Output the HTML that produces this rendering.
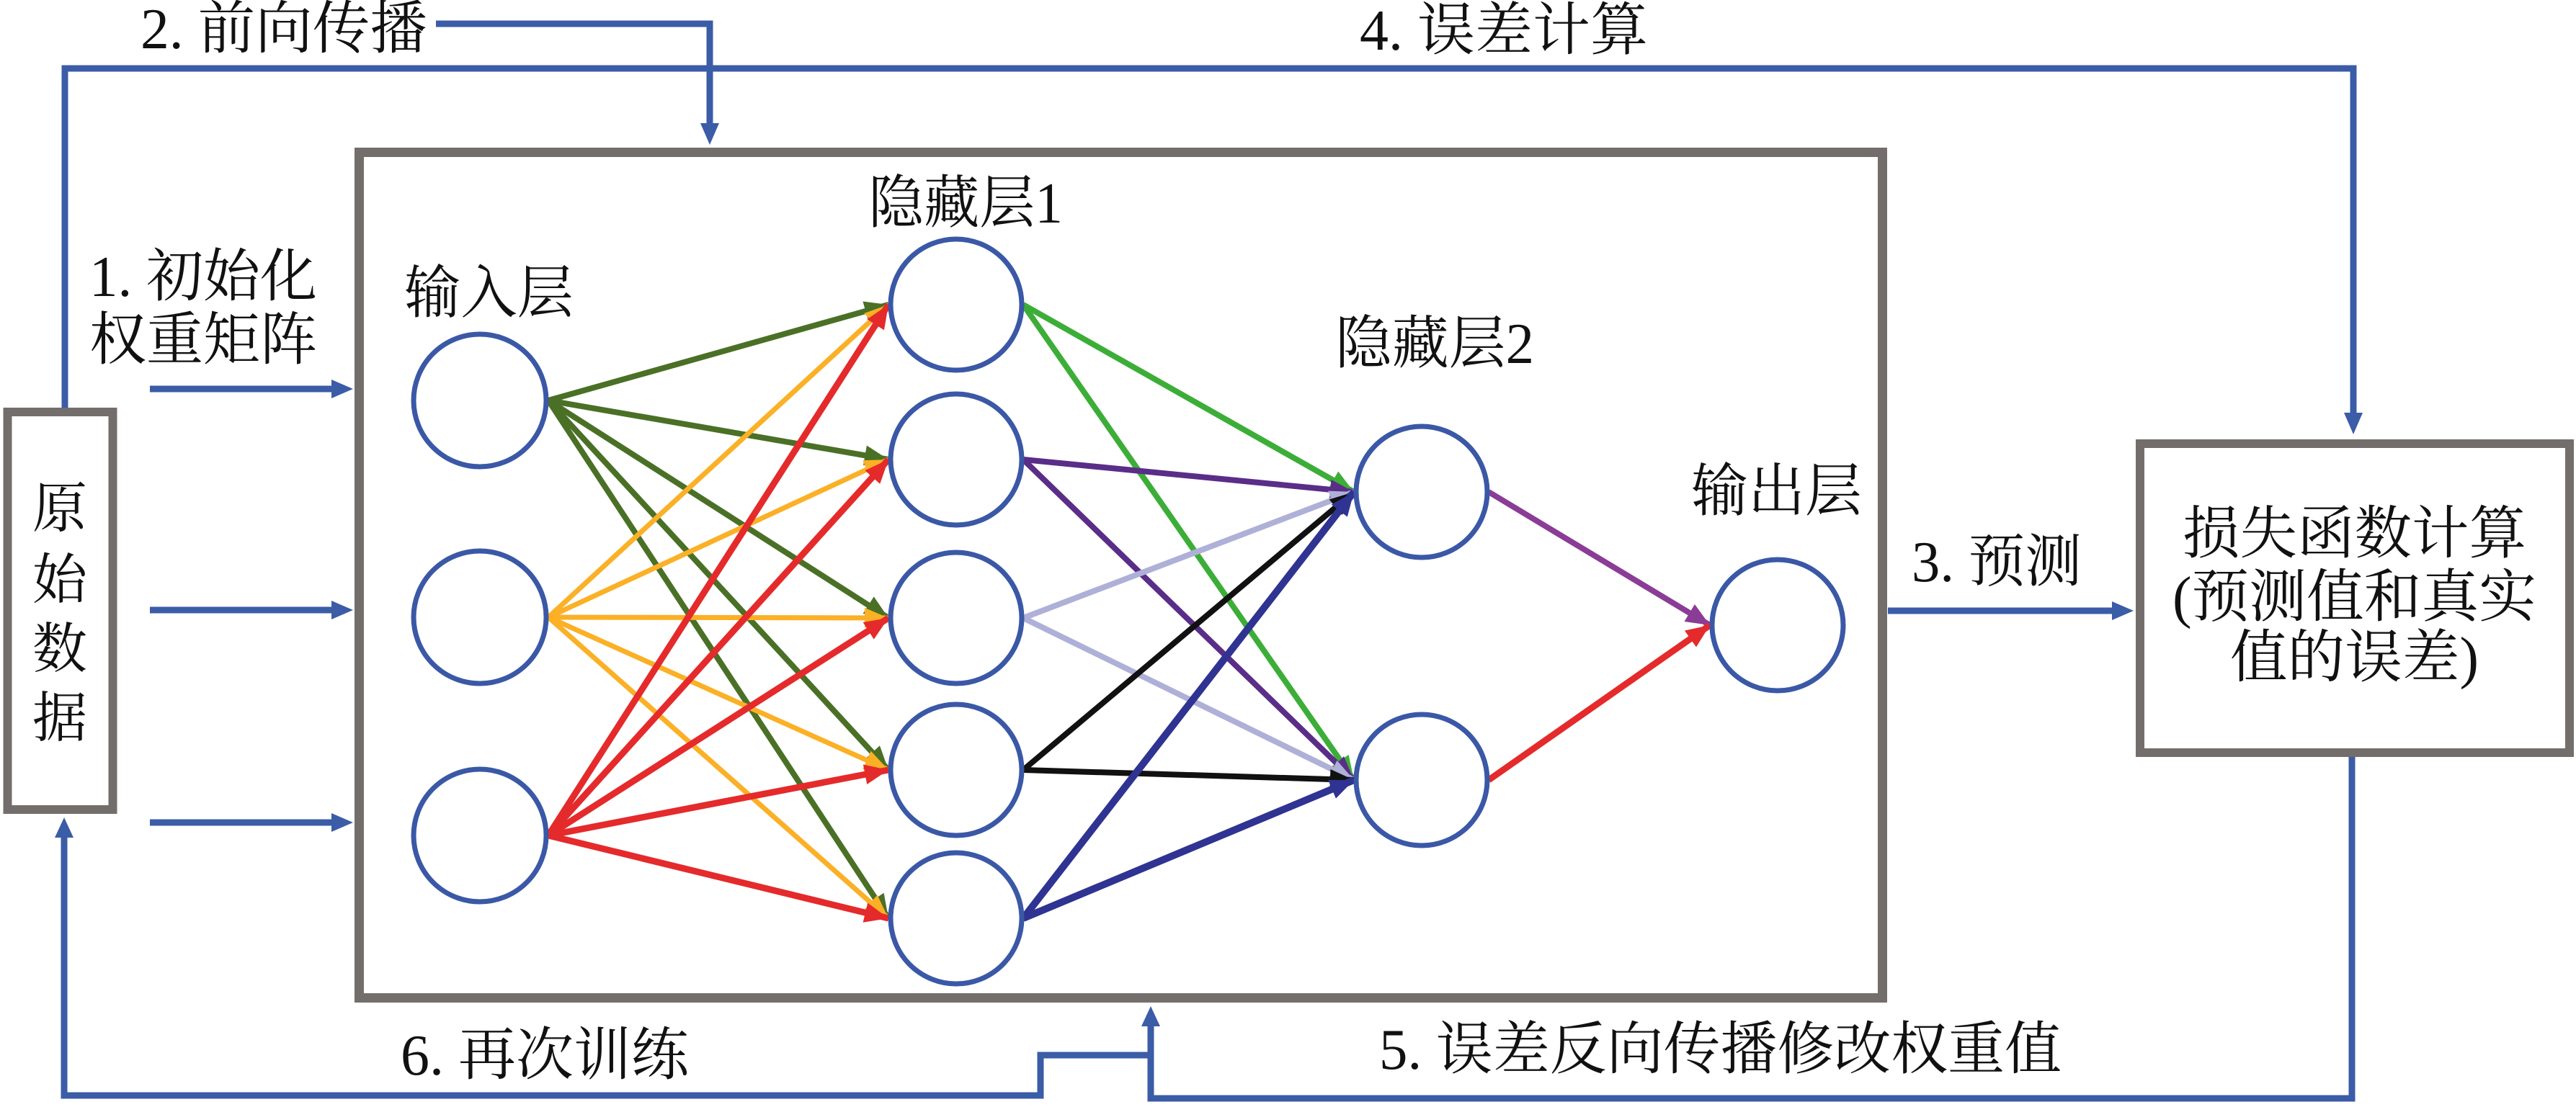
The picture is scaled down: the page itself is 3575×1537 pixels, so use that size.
<!DOCTYPE html>
<html>
<head>
<meta charset="utf-8">
<style>
  html,body{margin:0;padding:0;background:#fff;}
  svg{display:block;}
  text{font-family:"Liberation Serif","Noto Serif CJK SC","Noto Serif CJK",serif;fill:#111;}
</style>
</head>
<body>
<svg width="3575" height="1537" viewBox="0 0 3575 1537" xmlns="http://www.w3.org/2000/svg">
  <defs>
    <marker id="mDG" markerUnits="userSpaceOnUse" markerWidth="36" markerHeight="30" refX="33" refY="14" orient="auto" overflow="visible"><path d="M0,0 L33,14 L0,28 z" fill="#4a7026"/></marker>
    <marker id="mY" markerUnits="userSpaceOnUse" markerWidth="36" markerHeight="30" refX="33" refY="14" orient="auto" overflow="visible"><path d="M0,0 L33,14 L0,28 z" fill="#fbb026"/></marker>
    <marker id="mR" markerUnits="userSpaceOnUse" markerWidth="36" markerHeight="30" refX="33" refY="14" orient="auto" overflow="visible"><path d="M0,0 L33,14 L0,28 z" fill="#e52a2b"/></marker>
    <marker id="mG" markerUnits="userSpaceOnUse" markerWidth="36" markerHeight="30" refX="33" refY="14" orient="auto" overflow="visible"><path d="M0,0 L33,14 L0,28 z" fill="#3cae38"/></marker>
    <marker id="mP" markerUnits="userSpaceOnUse" markerWidth="36" markerHeight="30" refX="33" refY="14" orient="auto" overflow="visible"><path d="M0,0 L33,14 L0,28 z" fill="#5a2d88"/></marker>
    <marker id="mL" markerUnits="userSpaceOnUse" markerWidth="36" markerHeight="30" refX="33" refY="14" orient="auto" overflow="visible"><path d="M0,0 L33,14 L0,28 z" fill="#aeb0d8"/></marker>
    <marker id="mK" markerUnits="userSpaceOnUse" markerWidth="36" markerHeight="30" refX="33" refY="14" orient="auto" overflow="visible"><path d="M0,0 L33,14 L0,28 z" fill="#111111"/></marker>
    <marker id="mN" markerUnits="userSpaceOnUse" markerWidth="36" markerHeight="30" refX="33" refY="14" orient="auto" overflow="visible"><path d="M0,0 L33,14 L0,28 z" fill="#2f3391"/></marker>
    <marker id="mM" markerUnits="userSpaceOnUse" markerWidth="36" markerHeight="30" refX="33" refY="14" orient="auto" overflow="visible"><path d="M0,0 L33,14 L0,28 z" fill="#8b3c96"/></marker>
  </defs>

  <!-- Gray boxes -->
  <rect x="10.5" y="572" width="146" height="552" fill="none" stroke="#736e6b" stroke-width="12"/>
  <rect x="498.5" y="211.5" width="2114" height="1174" fill="none" stroke="#736e6b" stroke-width="13"/>
  <rect x="2970" y="616" width="596" height="429" fill="none" stroke="#736e6b" stroke-width="12"/>

  <!-- Blue connectors -->
  <g fill="none" stroke="#3b5ca6" stroke-width="9" stroke-linejoin="miter">
    <path d="M90 566 V95 H3266 V577"/>
    <path d="M605 33 H985 V175"/>
    <path d="M208 540 H462"/>
    <path d="M208 847 H462"/>
    <path d="M208 1142 H462"/>
    <path d="M2620 848 H2933"/>
    <path d="M89 1160 V1521 H1444 V1465 H1597"/>
    <path d="M3264 1051 V1525 H1597 V1422"/>
  </g>
  <g fill="#3b5ca6">
    <polygon points="972,171 998,171 985,201"/>
    <polygon points="3253,573 3279,573 3266,603"/>
    <polygon points="460,527 460,553 490,540"/>
    <polygon points="460,834 460,860 490,847"/>
    <polygon points="460,1129 460,1155 490,1142"/>
    <polygon points="2931,835 2931,861 2961,848"/>
    <polygon points="76,1163 102,1163 89,1135"/>
    <polygon points="1584,1425 1610,1425 1597,1397"/>
  </g>

  <!-- Input -> Hidden1 -->
  <g fill="none" stroke="#4a7026" stroke-width="8">
    <line x1="761" y1="556" x2="1233" y2="423" marker-end="url(#mDG)"/>
    <line x1="761" y1="556" x2="1233" y2="638" marker-end="url(#mDG)"/>
    <line x1="761" y1="556" x2="1233" y2="858" marker-end="url(#mDG)"/>
    <line x1="761" y1="556" x2="1233" y2="1069" marker-end="url(#mDG)"/>
    <line x1="761" y1="556" x2="1233" y2="1275" marker-end="url(#mDG)"/>
  </g>
  <g fill="none" stroke="#fbb026" stroke-width="7">
    <line x1="761" y1="857" x2="1233" y2="423" marker-end="url(#mY)"/>
    <line x1="761" y1="857" x2="1233" y2="638" marker-end="url(#mY)"/>
    <line x1="761" y1="857" x2="1233" y2="858" marker-end="url(#mY)"/>
    <line x1="761" y1="857" x2="1233" y2="1069" marker-end="url(#mY)"/>
    <line x1="761" y1="857" x2="1233" y2="1275" marker-end="url(#mY)"/>
  </g>
  <g fill="none" stroke="#e52a2b" stroke-width="9">
    <line x1="761" y1="1160" x2="1233" y2="423" marker-end="url(#mR)"/>
    <line x1="761" y1="1160" x2="1233" y2="638" marker-end="url(#mR)"/>
    <line x1="761" y1="1160" x2="1233" y2="858" marker-end="url(#mR)"/>
    <line x1="761" y1="1160" x2="1233" y2="1069" marker-end="url(#mR)"/>
    <line x1="761" y1="1160" x2="1233" y2="1275" marker-end="url(#mR)"/>
  </g>

  <!-- Hidden1 -> Hidden2 -->
  <g fill="none" stroke-width="8">
    <line x1="1420" y1="423" x2="1879" y2="683" stroke="#3cae38" marker-end="url(#mG)"/>
    <line x1="1420" y1="423" x2="1879" y2="1083" stroke="#3cae38" marker-end="url(#mG)"/>
    <line x1="1420" y1="638" x2="1879" y2="683" stroke="#5a2d88" marker-end="url(#mP)"/>
    <line x1="1420" y1="638" x2="1879" y2="1083" stroke="#5a2d88" marker-end="url(#mP)"/>
    <line x1="1420" y1="858" x2="1879" y2="683" stroke="#aeb0d8" marker-end="url(#mL)"/>
    <line x1="1420" y1="858" x2="1879" y2="1083" stroke="#aeb0d8" marker-end="url(#mL)"/>
    <line x1="1420" y1="1069" x2="1879" y2="683" stroke="#111111" marker-end="url(#mK)"/>
    <line x1="1420" y1="1069" x2="1879" y2="1083" stroke="#111111" marker-end="url(#mK)"/>
    <line x1="1420" y1="1275" x2="1879" y2="683" stroke="#2f3391" stroke-width="10" marker-end="url(#mN)"/>
    <line x1="1420" y1="1275" x2="1879" y2="1083" stroke="#2f3391" stroke-width="10" marker-end="url(#mN)"/>
  </g>

  <!-- Hidden2 -> Output -->
  <g fill="none" stroke-width="8">
    <line x1="2066" y1="683" x2="2373" y2="868" stroke="#8b3c96" marker-end="url(#mM)"/>
    <line x1="2066" y1="1083" x2="2373" y2="868" stroke="#e52a2b" stroke-width="9" marker-end="url(#mR)"/>
  </g>

  <!-- Neurons -->
  <g fill="#fff" stroke="#3a58a6" stroke-width="7">
    <circle cx="666" cy="556" r="92"/>
    <circle cx="666" cy="857" r="92"/>
    <circle cx="666" cy="1160" r="92"/>

    <circle cx="1327" cy="423" r="91"/>
    <circle cx="1327" cy="638" r="91"/>
    <circle cx="1327" cy="858" r="91"/>
    <circle cx="1327" cy="1069" r="91"/>
    <circle cx="1327" cy="1275" r="91"/>

    <circle cx="1973" cy="683" r="91"/>
    <circle cx="1973" cy="1083" r="91"/>

    <circle cx="2467" cy="868" r="91"/>
  </g>

  <!-- Labels -->
  <g font-size="80" font-family="Liberation Serif, Noto Serif CJK SC, serif">
    <text x="195" y="67" textLength="398" lengthAdjust="spacingAndGlyphs">2. 前向传播</text>
    <text x="1887" y="69" textLength="400" lengthAdjust="spacingAndGlyphs">4. 误差计算</text>
    <text x="124" y="411" textLength="316" lengthAdjust="spacingAndGlyphs">1. 初始化</text>
    <text x="124" y="499" textLength="316" lengthAdjust="spacingAndGlyphs">权重矩阵</text>
    <text x="561" y="434" textLength="235" lengthAdjust="spacingAndGlyphs">输入层</text>
    <text x="1205" y="309" textLength="270" lengthAdjust="spacingAndGlyphs">隐藏层1</text>
    <text x="1853" y="504" textLength="276" lengthAdjust="spacingAndGlyphs">隐藏层2</text>
    <text x="2347" y="709" textLength="237" lengthAdjust="spacingAndGlyphs">输出层</text>
    <text x="2653" y="807" textLength="236" lengthAdjust="spacingAndGlyphs">3. 预测</text>
    <text x="3029" y="768" textLength="477" lengthAdjust="spacingAndGlyphs">损失函数计算</text>
    <text x="3015" y="856" textLength="505" lengthAdjust="spacingAndGlyphs">(预测值和真实</text>
    <text x="3095" y="940" textLength="345" lengthAdjust="spacingAndGlyphs">值的误差)</text>
    <text x="556" y="1492" textLength="400" lengthAdjust="spacingAndGlyphs">6. 再次训练</text>
    <text x="1914" y="1484" textLength="947" lengthAdjust="spacingAndGlyphs">5. 误差反向传播修改权重值</text>
  </g>
  <g font-size="76" font-family="Liberation Serif, Noto Serif CJK SC, serif">
    <text x="45" y="732" textLength="76" lengthAdjust="spacingAndGlyphs">原</text>
    <text x="45" y="831" textLength="76" lengthAdjust="spacingAndGlyphs">始</text>
    <text x="45" y="927" textLength="76" lengthAdjust="spacingAndGlyphs">数</text>
    <text x="45" y="1023" textLength="76" lengthAdjust="spacingAndGlyphs">据</text>
  </g>
</svg>
</body>
</html>
